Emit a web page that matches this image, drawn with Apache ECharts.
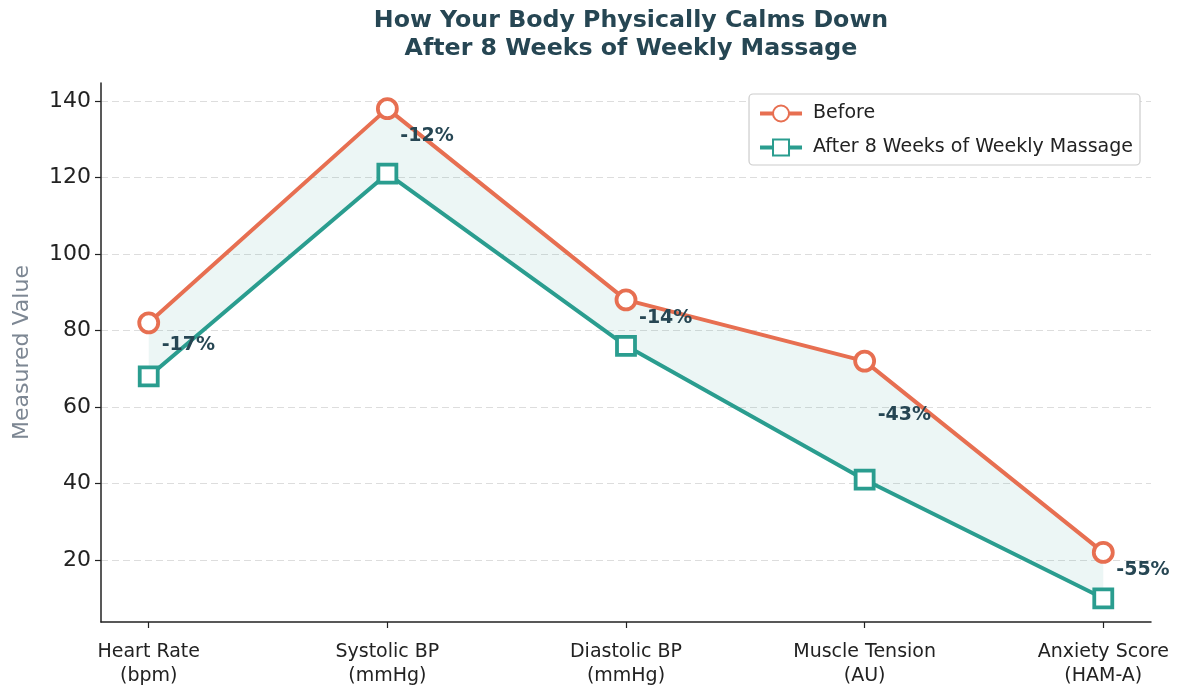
<!DOCTYPE html>
<html>
<head>
<meta charset="utf-8">
<script src="https://cdn.jsdelivr.net/npm/echarts@6/dist/echarts.min.js"></script>
<style>
  html, body { margin: 0; padding: 0; background: #fff; }
  #chart { width: 1178px; height: 689px; }
</style>
</head>
<body>
<div id="chart"></div>
<script>
const categories = ['Heart Rate\n(bpm)', 'Systolic BP\n(mmHg)', 'Diastolic BP\n(mmHg)', 'Muscle Tension\n(AU)', 'Anxiety Score\n(HAM-A)'];
const before = [82, 138, 88, 72, 22];
const after = [68, 121, 76, 41, 10];
const yTicks = [20, 40, 60, 80, 100, 120, 140];
const xTicks = [0, 1, 2, 3, 4];

const orange = '#e76f51';
const teal = '#2a9d8f';
const ink = '#264653';

const chart = echarts.init(document.getElementById('chart'));

// percent change labels sit at the midpoint between the two lines
const changes = before.map((b, i) => ({
  value: [i, (b + after[i]) / 2],
  pct: Math.round((after[i] - b) / b * 100) + '%'
}));

chart.setOption({
  animation: false,
  textStyle: { fontFamily: 'DejaVu Sans' },
  title: {
    text: 'How Your Body Physically Calms Down\nAfter 8 Weeks of Weekly Massage',
    left: 626,
    textAlign: 'center',
    top: 2,
    textStyle: { fontSize: 23.7, fontWeight: 'bold', color: ink, lineHeight: 28, fontFamily: 'DejaVu Sans' }
  },
  legend: {
    orient: 'vertical',
    right: 38,
    top: 94,
    data: ['Before', 'After 8 Weeks of Weekly Massage'],
    backgroundColor: '#fff',
    borderColor: '#cccccc',
    borderWidth: 1.2,
    borderRadius: 4,
    padding: [10, 7, 8, 9],
    itemGap: 15,
    itemWidth: 42,
    itemHeight: 20,
    lineStyle: { width: 4 },
    textStyle: { fontSize: 19, color: '#222', fontFamily: 'DejaVu Sans', padding: [0, 0, 0, 6] }
  },
  grid: { left: 101, right: 27, top: 83, bottom: 67 },
  xAxis: {
    type: 'value',
    min: -0.2,
    max: 4.2,
    axisLine: { onZero: false, lineStyle: { color: '#222', width: 1.5 } },
    axisTick: { customValues: xTicks, length: 6, lineStyle: { color: '#222', width: 1.2 } },
    axisLabel: {
      customValues: xTicks,
      formatter: v => categories[v],
      fontSize: 19,
      color: '#222',
      lineHeight: 24,
      margin: 18
    },
    splitLine: { show: false }
  },
  yAxis: {
    type: 'value',
    min: 3.8,
    max: 144.7,
    name: 'Measured Value',
    nameLocation: 'middle',
    nameGap: 68,
    nameTextStyle: { fontSize: 22, color: '#7d8793' },
    axisLine: { show: true, onZero: false, lineStyle: { color: '#222', width: 1.5 } },
    axisTick: { show: true, customValues: yTicks, length: 6, lineStyle: { color: '#222', width: 1.2 } },
    axisLabel: { customValues: yTicks, fontSize: 22, color: '#222', margin: 10 },
    splitLine: { show: true, lineStyle: { color: '#dddddd', type: [7, 4], width: 1.2 } }
  },
  series: [
    {
      type: 'custom',
      silent: true,
      z: 1,
      data: [[0, before[0]]],
      renderItem: (params, api) => {
        const top = before.map((v, i) => api.coord([i, v]));
        const bottom = after.map((v, i) => api.coord([i, v])).reverse();
        return {
          type: 'polygon',
          shape: { points: top.concat(bottom) },
          style: { fill: 'rgba(42,157,143,0.09)' }
        };
      }
    },
    {
      name: 'Before',
      type: 'line',
      z: 3,
      color: orange,
      data: before.map((v, i) => [i, v]),
      symbol: 'circle',
      symbolSize: 19,
      itemStyle: { color: '#fff', borderColor: orange, borderWidth: 3.8 },
      lineStyle: { color: orange, width: 4 }
    },
    {
      name: 'After 8 Weeks of Weekly Massage',
      type: 'line',
      z: 3,
      color: teal,
      data: after.map((v, i) => [i, v]),
      symbol: 'rect',
      symbolSize: 18,
      itemStyle: { color: '#fff', borderColor: teal, borderWidth: 3.8 },
      lineStyle: { color: teal, width: 4 }
    },
    {
      type: 'scatter',
      z: 4,
      silent: true,
      symbolSize: 0,
      itemStyle: { opacity: 1 },
      data: changes,
      label: {
        show: true,
        position: 'right',
        distance: 13,
        offset: [0, -5],
        formatter: p => p.data.pct,
        fontSize: 19,
        fontWeight: 'bold',
        color: ink,
        opacity: 1,
        textBorderWidth: 0
      }
    }
  ]
});
</script>
</body>
</html>
